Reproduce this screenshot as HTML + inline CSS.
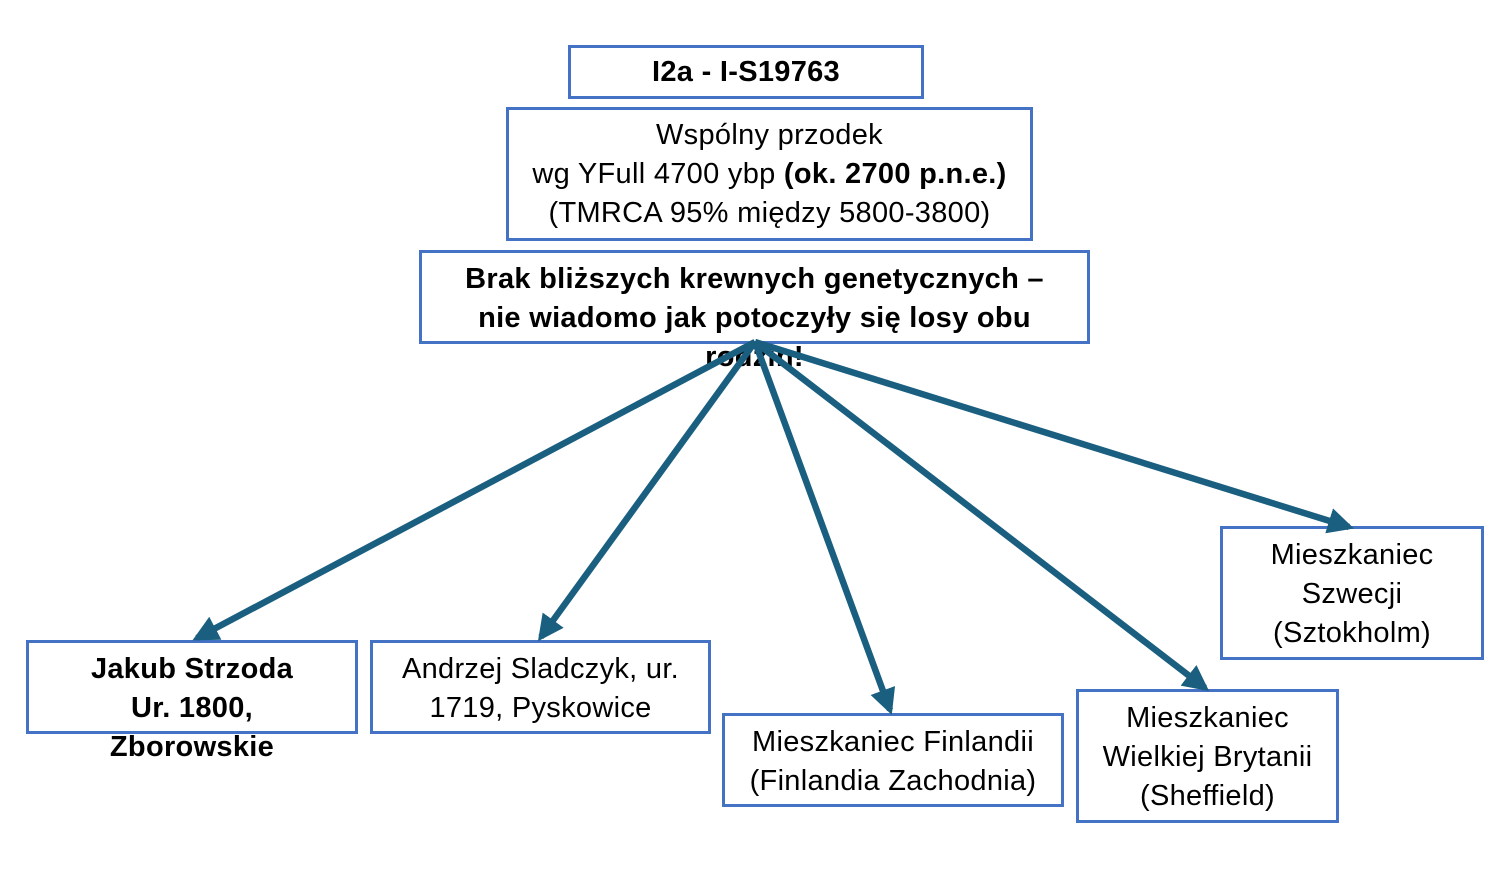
<!DOCTYPE html>
<html><head><meta charset="utf-8"><style>
body{margin:0;width:1500px;height:884px;background:#fff;position:relative;overflow:hidden;font-family:"Liberation Sans",sans-serif;color:#000}
.b{position:absolute;box-sizing:border-box;border:3px solid #4472C4;background:#fff;text-align:center;font-size:29px;letter-spacing:0.3px;line-height:39px;display:flex;flex-direction:column;justify-content:flex-start;align-items:center;white-space:nowrap}
.bold{font-weight:bold}
svg{position:absolute;left:0;top:0}
</style></head><body>
<div class="b bold" style="left:568px;top:45px;width:356px;height:54px;justify-content:center">I2a - I-S19763</div>
<div class="b" style="left:506px;top:107px;width:527px;height:134px;padding-top:6px;overflow:visible"><div>Wspólny przodek<br>wg YFull 4700 ybp <b>(ok. 2700 p.n.e.)</b><br>(TMRCA 95% między 5800-3800)</div></div>
<div class="b bold" style="left:419px;top:250px;width:671px;height:94px;padding-top:7px;overflow:visible"><div>Brak bliższych krewnych genetycznych –<br>nie wiadomo jak potoczyły się losy obu<br>rodzin!</div></div>
<div class="b bold" style="left:26px;top:640px;width:332px;height:94px;padding-top:7px;overflow:visible"><div>Jakub Strzoda<br>Ur. 1800,<br>Zborowskie</div></div>
<div class="b" style="left:370px;top:640px;width:341px;height:94px;padding-top:7px">Andrzej Sladczyk, ur.<br>1719, Pyskowice</div>
<div class="b" style="left:722px;top:713px;width:342px;height:94px;padding-top:7px">Mieszkaniec Finlandii<br>(Finlandia Zachodnia)</div>
<div class="b" style="left:1076px;top:689px;width:263px;height:134px;padding-top:7px">Mieszkaniec<br>Wielkiej Brytanii<br>(Sheffield)</div>
<div class="b" style="left:1220px;top:526px;width:264px;height:134px;padding-top:7px">Mieszkaniec<br>Szwecji<br>(Sztokholm)</div>
<svg width="1500" height="884">
<defs><marker id="a" markerWidth="4" markerHeight="4" refX="3.2" refY="2" orient="auto" markerUnits="strokeWidth"><path d="M0,0 L4,2 L0,4 z" fill="#1a5f80"/></marker></defs>
<g stroke="#1a5f80" stroke-width="6.5" fill="none" marker-end="url(#a)">
<line x1="755" y1="342" x2="197" y2="638"/>
<line x1="755" y1="342" x2="541" y2="637"/>
<line x1="755" y1="342" x2="890" y2="710"/>
<line x1="755" y1="342" x2="1205" y2="688"/>
<line x1="755" y1="342" x2="1349" y2="527"/>
</g>
</svg>
</body></html>
